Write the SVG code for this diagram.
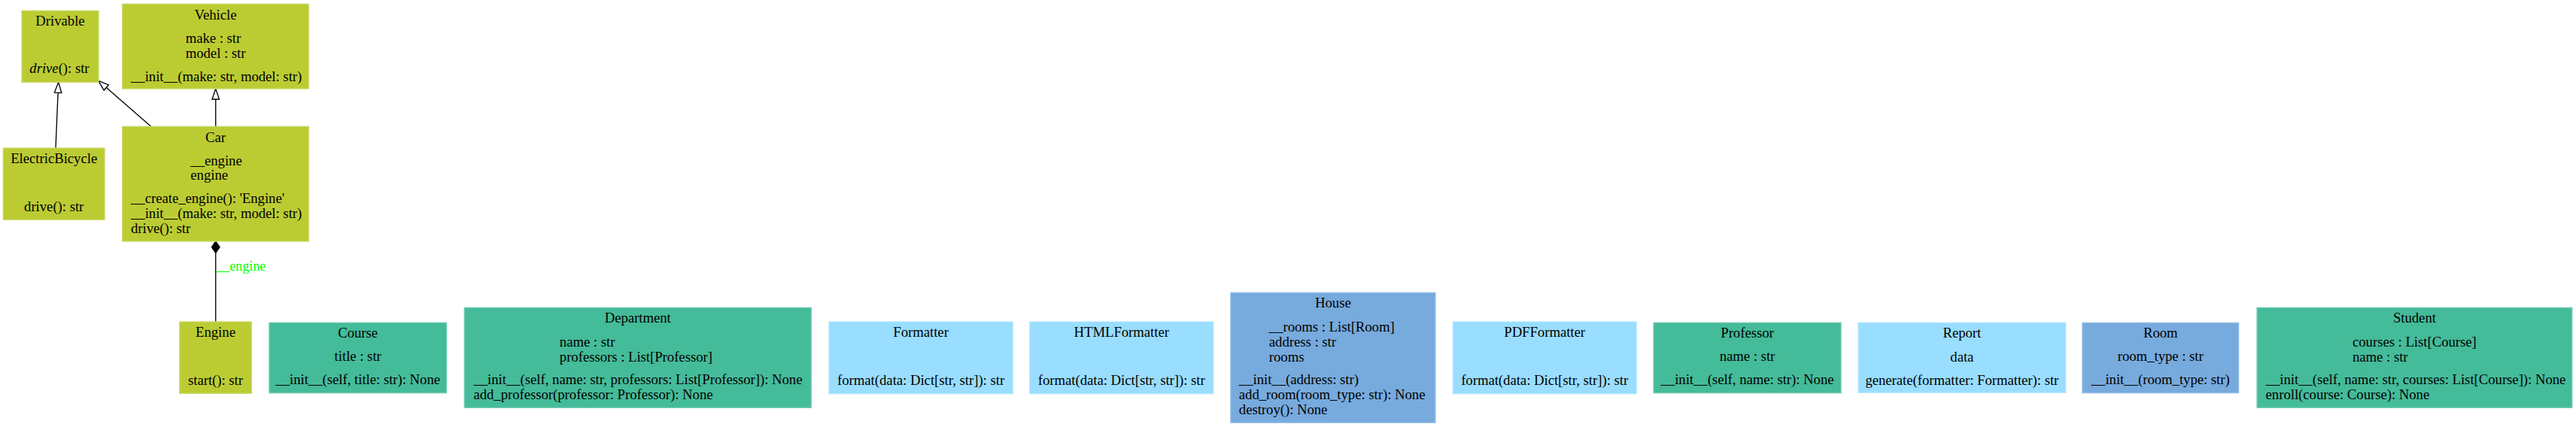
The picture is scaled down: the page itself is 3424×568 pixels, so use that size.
<svg xmlns="http://www.w3.org/2000/svg" width="3424" height="568" viewBox="0 0 3424 568">
<style>
text{font-family:"Liberation Serif","Times New Roman",serif;font-size:18.67px;fill:#000}
.c{text-anchor:middle}
.pear{fill:#bbcc33;stroke:#cbd86a;stroke-width:1.33}
.mint{fill:#44bb99;stroke:#72ccb2;stroke-width:1.33}
.cyan{fill:#99ddff;stroke:#b5e7ff;stroke-width:1.33}
.blue{fill:#77aadd;stroke:#99c0e6;stroke-width:1.33}
.edge{fill:none;stroke:#000;stroke-width:1.33}
.inh{marker-end:url(#tri)}
.comp{marker-start:url(#dia)}
.lbl{fill:#00ff00;font-size:18px}
</style>
<defs>
<marker id="tri" markerUnits="userSpaceOnUse" viewBox="-1 -6 16 12" markerWidth="16" markerHeight="12" refX="14" refY="0" orient="auto" overflow="visible">
<path d="M0,-4.7 L14,0 L0,4.7 Z" fill="#fff" stroke="#000" stroke-width="1.33"/>
</marker>
<marker id="dia" markerUnits="userSpaceOnUse" viewBox="-1 -6 17 12" markerWidth="17" markerHeight="12" refX="0" refY="0" orient="auto" overflow="visible">
<path d="M0,0 L7.7,-5.3 L15.4,0 L7.7,5.3 Z" fill="#000" stroke="#000" stroke-width="1.33"/>
</marker>
</defs>
<rect width="3424" height="568" fill="#fff"/>

<g id="connectors">
<path class="edge inh" d="M74,197 L77.7,109.3"/>
<path class="edge inh" d="M200.7,168.3 L130.7,107.3"/>
<path class="edge inh" d="M286.7,168.3 L286.7,118"/>
<path class="edge comp" d="M286.7,321 L286.7,428"/>
<text class="lbl" x="287.3" y="360">__engine</text>
</g>

<g id="Drivable">
<rect class="pear" x="29" y="14.3" width="102" height="95"/>
<text class="c" x="80" y="34">Drivable</text>
<text x="39.3" y="97"><tspan font-style="italic">drive</tspan>(): str</text>
</g>

<g id="Vehicle">
<rect class="pear" x="162.7" y="5.3" width="247.6" height="112.7"/>
<text class="c" x="286.5" y="25.7">Vehicle</text>
<text x="246.7" y="57">make : str</text>
<text x="246.7" y="77">model : str</text>
<text x="174" y="108">__init__(make: str, model: str)</text>
</g>

<g id="ElectricBicycle">
<rect class="pear" x="4.3" y="197" width="134.7" height="95.3"/>
<text class="c" x="71.7" y="217.3">ElectricBicycle</text>
<text class="c" x="71.7" y="280.7">drive(): str</text>
</g>

<g id="Car">
<rect class="pear" x="162.7" y="168.3" width="247.6" height="152.7"/>
<text class="c" x="286.5" y="188.7">Car</text>
<text x="253.3" y="219.7">__engine</text>
<text x="253.3" y="239.3">engine</text>
<text x="174" y="269.7">__create_engine(): 'Engine'</text>
<text x="174" y="289.7">__init__(make: str, model: str)</text>
<text x="174" y="309.7">drive(): str</text>
</g>

<g id="Engine">
<rect class="pear" x="238.7" y="428" width="95.6" height="95.3"/>
<text class="c" x="286.5" y="448.3">Engine</text>
<text class="c" x="286.5" y="512.3">start(): str</text>
</g>

<g id="Course">
<rect class="mint" x="357.9" y="429.3" width="235.6" height="93.4"/>
<text class="c" x="475.7" y="449">Course</text>
<text class="c" x="475.7" y="480">title : str</text>
<text class="c" x="475.7" y="511">__init__(self, title: str): None</text>
</g>

<g id="Department">
<rect class="mint" x="617.3" y="409.3" width="460.9" height="133"/>
<text class="c" x="847.75" y="429.3">Department</text>
<text x="743.8" y="461">name : str</text>
<text x="743.8" y="481">professors : List[Professor]</text>
<text x="629.4" y="511">__init__(self, name: str, professors: List[Professor]): None</text>
<text x="629.4" y="531">add_professor(professor: Professor): None</text>
</g>

<g id="Formatter">
<rect class="cyan" x="1102" y="428" width="244.2" height="95.7"/>
<text class="c" x="1224.1" y="448.3">Formatter</text>
<text class="c" x="1224.1" y="511.7">format(data: Dict[str, str]): str</text>
</g>

<g id="HTMLFormatter">
<rect class="cyan" x="1368.7" y="428" width="244.1" height="95.7"/>
<text class="c" x="1490.75" y="448.3">HTMLFormatter</text>
<text class="c" x="1490.75" y="511.7">format(data: Dict[str, str]): str</text>
</g>

<g id="House">
<rect class="blue" x="1635.8" y="389.3" width="272.1" height="173"/>
<text class="c" x="1771.85" y="409.3">House</text>
<text x="1686.8" y="441">__rooms : List[Room]</text>
<text x="1686.8" y="461">address : str</text>
<text x="1686.8" y="481">rooms</text>
<text x="1646.8" y="511">__init__(address: str)</text>
<text x="1646.8" y="531">add_room(room_type: str): None</text>
<text x="1646.8" y="551">destroy(): None</text>
</g>

<g id="PDFFormatter">
<rect class="cyan" x="1931.2" y="428" width="243.9" height="95.7"/>
<text class="c" x="2053.15" y="448.3">PDFFormatter</text>
<text class="c" x="2053.15" y="511.7">format(data: Dict[str, str]): str</text>
</g>

<g id="Professor">
<rect class="mint" x="2198" y="429.3" width="249" height="93.4"/>
<text class="c" x="2322.5" y="449">Professor</text>
<text class="c" x="2322.5" y="480">name : str</text>
<text class="c" x="2322.5" y="511">__init__(self, name: str): None</text>
</g>

<g id="Report">
<rect class="cyan" x="2470" y="429.3" width="275.7" height="93"/>
<text class="c" x="2607.85" y="449.3">Report</text>
<text class="c" x="2607.85" y="481">data</text>
<text class="c" x="2607.85" y="511.7">generate(formatter: Formatter): str</text>
</g>

<g id="Room">
<rect class="blue" x="2767.9" y="429.3" width="207.7" height="93.4"/>
<text class="c" x="2871.75" y="449">Room</text>
<text class="c" x="2871.75" y="480">room_type : str</text>
<text class="c" x="2871.75" y="511">__init__(room_type: str)</text>
</g>

<g id="Student">
<rect class="mint" x="3000" y="409.3" width="418.8" height="133"/>
<text class="c" x="3209.4" y="429.3">Student</text>
<text x="3127" y="461">courses : List[Course]</text>
<text x="3127" y="481">name : str</text>
<text x="3011.6" y="511">__init__(self, name: str, courses: List[Course]): None</text>
<text x="3011.6" y="531">enroll(course: Course): None</text>
</g>
</svg>
